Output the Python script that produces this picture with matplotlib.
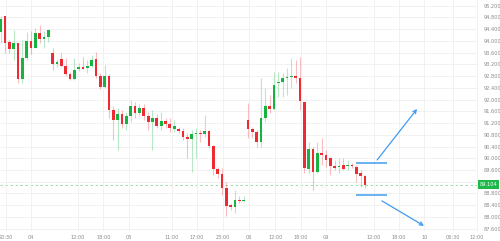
import matplotlib
matplotlib.use("Agg")
import matplotlib.pyplot as plt
import numpy as np

# hourly candles
opens = [94.304, 94.849, 93.963, 93.725, 93.929, 92.703, 93.418, 93.998, 93.759, 94.270,
         94.066, 94.134, 93.589, 93.214, 93.384, 93.146, 92.874, 92.703, 93.044, 93.112,
         93.078, 93.146, 93.384, 92.806, 92.431, 92.806, 91.647, 91.307, 91.511, 91.171,
         91.443, 91.784, 91.545, 91.716, 91.443, 91.239, 91.375, 91.103, 91.273, 91.171,
         91.000, 91.000, 90.932, 90.728, 90.660, 90.830, 90.864, 90.830, 90.932, 90.423,
         89.638, 89.467, 88.991, 88.412, 88.344, 88.582, 88.548, 91.307, 91.000, 90.898,
         90.558, 91.375, 91.784, 91.681, 92.567, 92.601, 92.737, 92.771, 92.806, 92.737,
         91.920, 89.638, 90.319, 89.536, 90.183, 90.115, 90.013, 89.740, 89.706, 89.774,
         89.740, 89.774, 89.706, 89.502, 89.400]
highs = [94.849, 94.849, 94.032, 94.372, 93.929, 94.032, 94.304, 94.338, 94.440, 94.543,
         94.338, 94.406, 93.759, 93.384, 93.589, 93.418, 92.942, 93.418, 93.248, 93.453,
         93.350, 93.521, 93.623, 92.908, 93.180, 92.874, 91.784, 91.716, 91.647, 91.579,
         91.988, 91.920, 91.852, 91.852, 91.579, 91.647, 91.511, 91.579, 91.375, 91.375,
         91.307, 91.069, 91.034, 90.864, 90.966, 91.034, 90.966, 91.477, 90.966, 90.457,
         89.706, 89.672, 89.195, 88.480, 88.923, 88.718, 88.718, 91.886, 91.069, 90.966,
         92.737, 92.397, 92.158, 92.942, 92.942, 92.908, 93.078, 93.418, 93.350, 93.453,
         91.920, 90.558, 90.387, 90.558, 90.694, 90.285, 90.047, 89.944, 90.013, 90.013,
         89.944, 89.842, 89.774, 89.604, 89.434]
lows = [93.929, 93.589, 93.589, 93.350, 92.567, 92.567, 93.350, 93.555, 93.759, 93.929,
        93.759, 93.963, 93.010, 93.112, 93.112, 92.806, 92.669, 92.669, 92.976, 93.044,
        92.908, 93.112, 92.737, 92.363, 92.397, 91.375, 90.626, 90.285, 91.034, 90.966,
        91.239, 91.375, 91.443, 91.307, 90.966, 90.285, 91.034, 90.966, 91.034, 90.898,
        90.898, 90.864, 90.626, 90.013, 89.536, 90.013, 90.558, 90.728, 90.353, 89.434,
        89.331, 88.752, 88.037, 88.241, 88.139, 88.480, 88.514, 90.694, 90.694, 90.387,
        90.387, 91.239, 91.545, 91.647, 92.090, 92.090, 92.158, 92.397, 92.567, 91.647,
        89.502, 89.502, 88.923, 89.502, 89.774, 89.706, 89.434, 89.604, 89.502, 89.604,
        89.604, 89.672, 89.195, 89.025, 88.991]
closes = [94.747, 93.929, 93.725, 93.929, 92.703, 93.418, 93.998, 93.759, 94.270, 94.066,
          94.134, 94.372, 93.214, 93.282, 93.146, 92.874, 92.703, 93.010, 93.112, 93.044,
          93.146, 93.350, 92.806, 92.431, 92.806, 91.647, 91.307, 91.511, 91.171, 91.443,
          91.784, 91.545, 91.716, 91.443, 91.239, 91.375, 91.103, 91.273, 91.171, 91.034,
          91.103, 90.932, 90.728, 90.660, 90.830, 90.864, 90.830, 90.932, 90.423, 89.638,
          89.467, 88.991, 88.378, 88.344, 88.582, 88.548, 88.582, 91.000, 90.898, 90.558,
          91.375, 91.784, 91.681, 92.499, 92.601, 92.737, 92.771, 92.806, 92.737, 91.954,
          89.672, 90.319, 89.536, 90.183, 90.115, 89.944, 89.740, 89.672, 89.740, 89.638,
          89.774, 89.740, 89.467, 89.400, 89.104]

# time axis labels (candle index positions)
tick_pos = [1.2, 7.0, 17.8, 23.7, 29.5, 39.5, 45.3, 51.3, 57.3, 63.3, 69.2, 75.0,
            86.1, 91.8, 97.7, 104.3, 109.8]
tick_lbl = ["20:30", "04", "12:00", "18:00", "05", "11:00", "17:00", "23:00", "06",
            "12:00", "18:00", "09", "12:00", "18:00", "10", "06:30", "12:00"]

# projected range (blue lines) and scenario arrows
range_hi, range_lo = 89.853, 88.752
range_x = [82, 89]
up_arrow = [(86.8, 89.944), (96.0, 91.681)]
down_arrow = [(87.9, 88.548), (97.6, 87.697)]

RED, GREEN, BLUE = "#ee2a33", "#16b340", "#3f9cf2"

fig = plt.figure(figsize=(5.0, 2.41), dpi=100)
ax = fig.add_axes([0.0, 0.042, 0.956, 0.958])

o = np.array(opens); h = np.array(highs); l = np.array(lows); c = np.array(closes)
x = np.arange(len(o))
up = c >= o
col = np.where(up, GREEN, RED)

ax.vlines(x, l, h, colors=col, lw=0.8, alpha=0.3, zorder=2)
body_lo = np.minimum(o, c)
body_h = np.maximum(np.abs(c - o), 0.025)
ax.bar(x, body_h, bottom=body_lo, width=0.62, color=col, lw=0, zorder=3)

# last price line + tag (tag hides the axis label underneath it)
last = closes[-1]
ax.axhline(last, color="#8ad99c", lw=0.6, ls=(0, (3, 3)), zorder=1)
ax.text(1.004, last, f"{last:.3f}", transform=ax.get_yaxis_transform(),
        fontsize=3.6, color="white", va="center", ha="left", clip_on=False,
        bbox=dict(boxstyle="square,pad=0.35", fc="#1db84a", ec="none"), zorder=5)

ax.hlines([range_hi, range_lo], range_x[0], range_x[1], colors=BLUE, lw=1.1, zorder=4)
for a in (up_arrow, down_arrow):
    ax.annotate("", xy=a[1], xytext=a[0],
                arrowprops=dict(arrowstyle="->", color=BLUE, lw=0.9,
                                mutation_scale=6, shrinkA=0, shrinkB=0))

ax.set_xlim(-0.16, 110.05)
ax.set_ylim(87.526, 95.394)
ax.set_yticks(np.arange(87.6, 95.21, 0.4))
ax.yaxis.set_major_formatter(plt.FuncFormatter(
    lambda v, _: "" if abs(v - last) < 0.2 else f"{v:.3f}"))
ax.yaxis.tick_right()
ax.set_xticks(tick_pos)
ax.set_xticklabels(tick_lbl)
ax.tick_params(axis="both", length=0, labelsize=3.6, colors="#8a8a8a")
ax.tick_params(axis="y", pad=4)
ax.tick_params(axis="x", pad=3)
ax.grid(True, color="#efefef", lw=0.6, zorder=0)
for s in ax.spines.values():
    s.set_visible(False)

fig.savefig("out.png", dpi=100)
